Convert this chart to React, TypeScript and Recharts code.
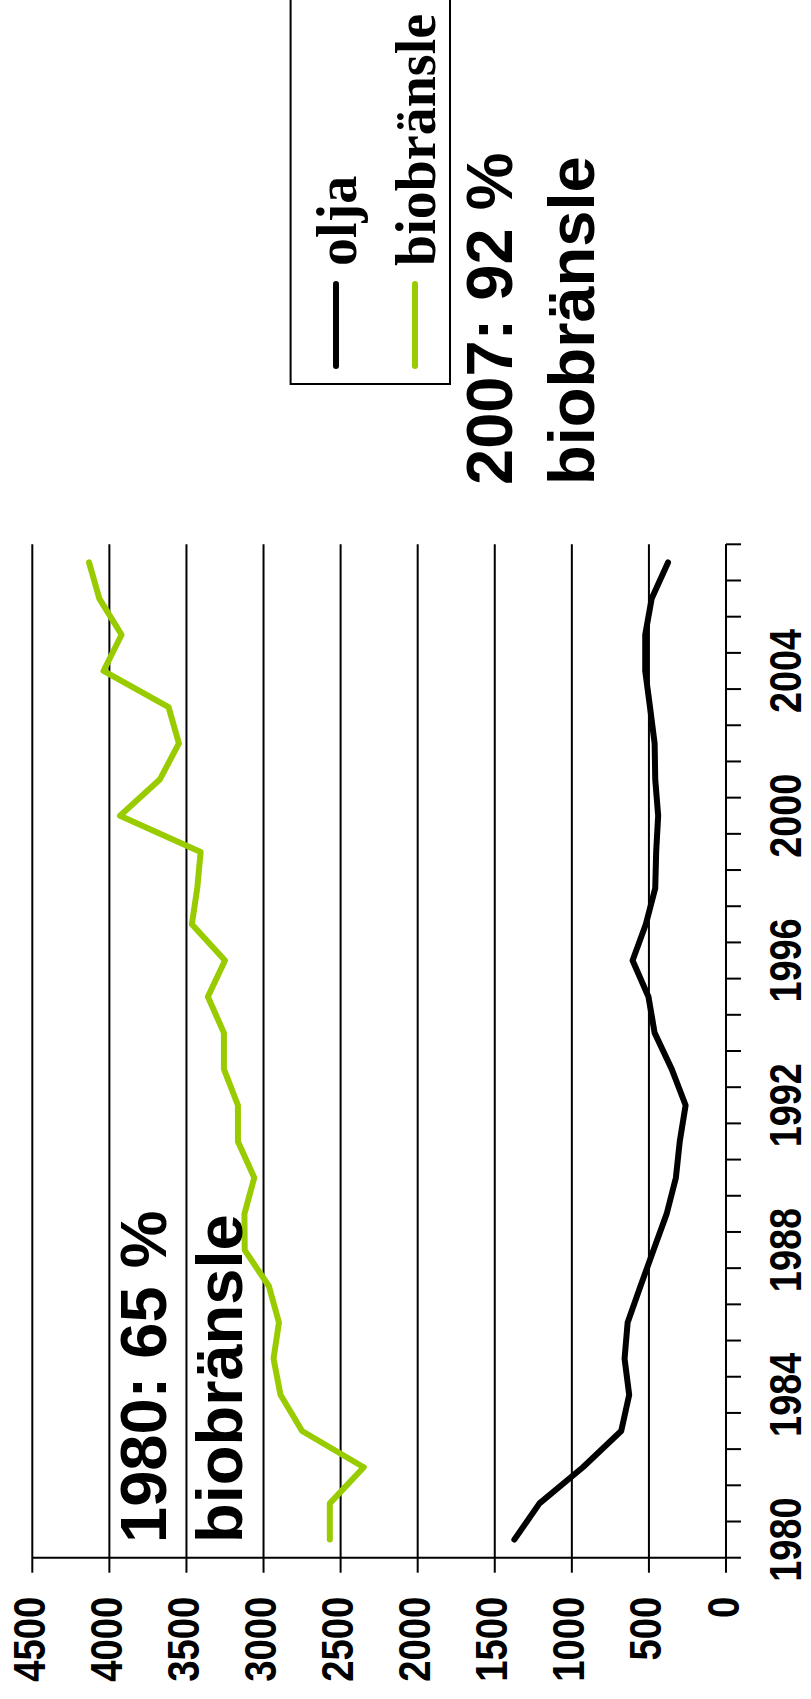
import React from 'react';
import { LineChart, Line, XAxis, YAxis, CartesianGrid } from 'recharts';

const years = [
  1980, 1981, 1982, 1983, 1984, 1985, 1986, 1987, 1988, 1989, 1990, 1991, 1992, 1993,
  1994, 1995, 1996, 1997, 1998, 1999, 2000, 2001, 2002, 2003, 2004, 2005, 2006, 2007,
];
const olja = [
  1373, 1210, 928, 680, 628, 658, 638, 555, 470, 385, 325, 300, 262, 352,
  463, 503, 606, 520, 459, 453, 440, 459, 463, 493, 524, 524, 482, 376,
];
const biobransle = [
  2570, 2570, 2350, 2750, 2890, 2935, 2900, 2965, 3122, 3124, 3060, 3166, 3166, 3257,
  3257, 3361, 3250, 3465, 3430, 3408, 3931, 3673, 3549, 3616, 4038, 3921, 4065, 4132,
];
const yearLabels = [1980, 1984, 1988, 1992, 1996, 2000, 2004];
const valueTicks = [0, 500, 1000, 1500, 2000, 2500, 3000, 3500, 4000, 4500];

const series = [
  { key: 'olja', name: 'olja', color: '#000000' },
  { key: 'bio', name: 'biobränsle', color: '#99cc00' },
];

const data = years.map((year, i) => ({ year, olja: olja[i], bio: biobransle[i] }));
// tick marks sit between the years, labels sit on the years
const yearEdges = [...years.map((y) => y - 0.5), years[years.length - 1] + 0.5];

const W = 1699;
const H = 811;
const Y_AXIS_W = 141.3;
const MARGIN_RIGHT = 544.3;
const STEP = (W - Y_AXIS_W - MARGIN_RIGHT) / years.length;
const SANS = '"Liberation Sans", Arial, sans-serif';
const SERIF = '"Liberation Serif", "Times New Roman", serif';
const axisStroke = { stroke: '#000', strokeWidth: 2 };

function YearTick({ x, y, payload }: any) {
  const year = payload.value + 0.5;
  if (!yearLabels.includes(year)) return <g />;
  return (
    <text
      transform={`translate(${x + STEP / 2},${y + 60}) scale(0.86,1)`}
      textAnchor="middle"
      fontFamily={SANS}
      fontWeight="bold"
      fontSize={44}
      fill="#000"
    >
      {year}
    </text>
  );
}

function ValueTick({ x, y, payload }: any) {
  return (
    <text
      transform={`translate(${x - 24},${y + 12.5}) scale(0.85,1)`}
      textAnchor="end"
      fontFamily={SANS}
      fontWeight="bold"
      fontSize={45}
      fill="#000"
    >
      {payload.value}
    </text>
  );
}

export default function App() {
  return (
    <div style={{ position: 'absolute', left: 0, top: 0, width: H, height: W, overflow: 'hidden', background: '#fff' }}>
      <div
        style={{
          position: 'absolute',
          left: 0,
          top: 0,
          width: W,
          height: H,
          transformOrigin: '0 0',
          transform: `translateY(${W}px) rotate(-90deg)`,
        }}
      >
        <LineChart width={W} height={H} data={data} margin={{ top: 32.3, right: MARGIN_RIGHT, bottom: 0, left: 0 }}>
          <CartesianGrid vertical={false} stroke="#000" strokeWidth={2} />
          <XAxis
            type="number"
            dataKey="year"
            domain={[1979.5, 2007.5]}
            ticks={yearEdges}
            interval={0}
            height={85}
            tickSize={15}
            tickMargin={0}
            axisLine={axisStroke}
            tickLine={axisStroke}
            tick={<YearTick />}
          />
          <YAxis
            domain={[0, 4500]}
            ticks={valueTicks}
            interval={0}
            width={Y_AXIS_W}
            tickSize={15}
            tickMargin={0}
            axisLine={axisStroke}
            tickLine={axisStroke}
            tick={<ValueTick />}
          />
          {series.map((s) => (
            <Line
              key={s.key}
              dataKey={s.key}
              name={s.name}
              stroke={s.color}
              strokeWidth={6}
              strokeLinecap="round"
              strokeLinejoin="round"
              dot={false}
              isAnimationActive={false}
            />
          ))}
        </LineChart>
        <svg width={W} height={H} style={{ position: 'absolute', left: 0, top: 0, pointerEvents: 'none' }}>
          <g fontFamily={SANS} fontWeight="bold" fontSize={65} fill="#000">
            <text x={156} y={166}>1980: 65 %</text>
            <text x={156} y={242}>biobränsle</text>
            <text x={1214} y={512}>2007: 92 %</text>
            <text x={1214} y={594}>biobränsle</text>
          </g>
          <rect x={1315} y={290.6} width={500} height={159.4} fill="#fff" stroke="#000" strokeWidth={2} />
          {series.map((s, i) => (
            <g key={s.key}>
              <line x1={1333} x2={1415} y1={336 + i * 79} y2={336 + i * 79} stroke={s.color} strokeWidth={6} strokeLinecap="round" />
              <text x={1433} y={356 + i * 79} fontFamily={SERIF} fontWeight="bold" fontSize={56} fill="#000">
                {s.name}
              </text>
            </g>
          ))}
        </svg>
      </div>
    </div>
  );
}
